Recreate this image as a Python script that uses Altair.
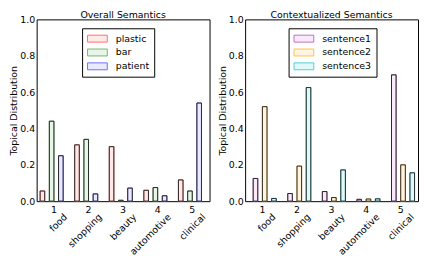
import altair as alt
import pandas as pd

numbers = ["1", "2", "3", "4", "5"]
categories = ["food", "shopping", "beauty", "automotive", "clinical"]

overall_series = ["plastic", "bar", "patient"]
plastic = [0.056, 0.31, 0.30, 0.06, 0.117]
bar = [0.44, 0.34, 0.005, 0.075, 0.056]
patient = [0.25, 0.04, 0.072, 0.03, 0.54]

context_series = ["sentence1", "sentence2", "sentence3"]
sentence1 = [0.125, 0.042, 0.053, 0.01, 0.695]
sentence2 = [0.52, 0.193, 0.02, 0.012, 0.2]
sentence3 = [0.015, 0.625, 0.172, 0.013, 0.156]

overall_fill = ["#ffeaea", "#eaf5ea", "#eaeaff"]
overall_line = ["#ff7070", "#70b870", "#7070ff"]
context_fill = ["#f8eaf8", "#fff5e0", "#e0f8f8"]
context_line = ["#c070c0", "#ffc050", "#50d0d0"]

W, H = 175, 184
FONT = "DejaVu Sans"
FS = 9.5


def make_df(series, values):
    rows = []
    for s, vals in zip(series, values):
        for n, v in zip(numbers, vals):
            rows.append({"num": n, "series": s, "value": v})
    return pd.DataFrame(rows)


cats_df = pd.DataFrame({"num": numbers, "cat": categories})


def legend(lx, ly):
    return alt.Legend(
        title=None, orient="none", legendX=lx, legendY=ly,
        strokeColor="black", fillColor="white", padding=5,
        symbolType="M-2,-0.7H2V0.7H-2Z", symbolSize=100,
        symbolOffset=5,
        symbolStrokeWidth=1, labelFontSize=FS, labelFont=FONT,
        labelColor="black", labelOffset=13, rowPadding=3,
        cornerRadius=0,
    )


def panel(series, values, fills, lines, title, lx, ly):
    df = make_df(series, values)
    xenc = alt.X(
        "num:N",
        sort=numbers,
        scale=alt.Scale(paddingInner=0.2, paddingOuter=0.1),
        axis=alt.Axis(
            title=None, labelAngle=0, ticks=False, domain=False,
            labelFontSize=FS, labelPadding=3, labelColor="black", labelFont=FONT,
        ),
    )
    yenc = alt.Y(
        "value:Q",
        scale=alt.Scale(domain=[0, 1], nice=False),
        axis=alt.Axis(
            title="Topical Distribution", values=[0, 0.2, 0.4, 0.6, 0.8, 1.0],
            format=".1f", grid=False, ticks=False, domain=False,
            labelOverlap=False, labelFlush=False,
            labelFontSize=FS, labelPadding=2, labelColor="black", labelFont=FONT,
            titleFontSize=FS, titleFontWeight="normal", titleColor="black",
            titleFont=FONT, titlePadding=1,
        ),
    )
    xoff = alt.XOffset("series:N", sort=series, scale=alt.Scale(paddingInner=0, paddingOuter=0))
    filled = alt.Chart(df).mark_bar(strokeWidth=1).encode(
        x=xenc,
        xOffset=xoff,
        y=yenc,
        fill=alt.Fill(
            "series:N", sort=series,
            scale=alt.Scale(domain=series, range=fills),
            legend=legend(lx, ly),
        ),
        stroke=alt.Stroke(
            "series:N", sort=series,
            scale=alt.Scale(domain=series, range=lines),
            legend=legend(lx, ly),
        ),
    )
    outline = alt.Chart(df).mark_bar(filled=False, stroke="#2a2a2a", strokeWidth=1).encode(
        x=xenc, xOffset=xoff, y=yenc
    )
    labels = alt.Chart(cats_df).mark_text(
        angle=315, align="right", baseline="top", fontSize=FS, font=FONT, color="black"
    ).encode(
        x=alt.X("num:N", sort=numbers, bandPosition=0.8),
        y=alt.value(H + 11),
        text="cat:N",
    )
    return alt.layer(filled, outline, labels).properties(
        width=W, height=H,
        title=alt.TitleParams(title, fontSize=FS, fontWeight="normal", font=FONT,
                              color="black", offset=-5),
    )


left = panel(overall_series, [plastic, bar, patient], overall_fill, overall_line,
             "Overall Semantics", 46, 9)
right = panel(context_series, [sentence1, sentence2, sentence3], context_fill, context_line,
              "Contextualized Semantics", 44, 9)

chart = alt.hconcat(left, right, spacing=6).resolve_scale(
    fill="independent", stroke="independent"
).resolve_legend(fill="independent", stroke="independent").configure_view(
    stroke="black", strokeWidth=1
).properties(padding=0)

chart.save("out.html", embed_options={"renderer": "svg", "actions": False})
